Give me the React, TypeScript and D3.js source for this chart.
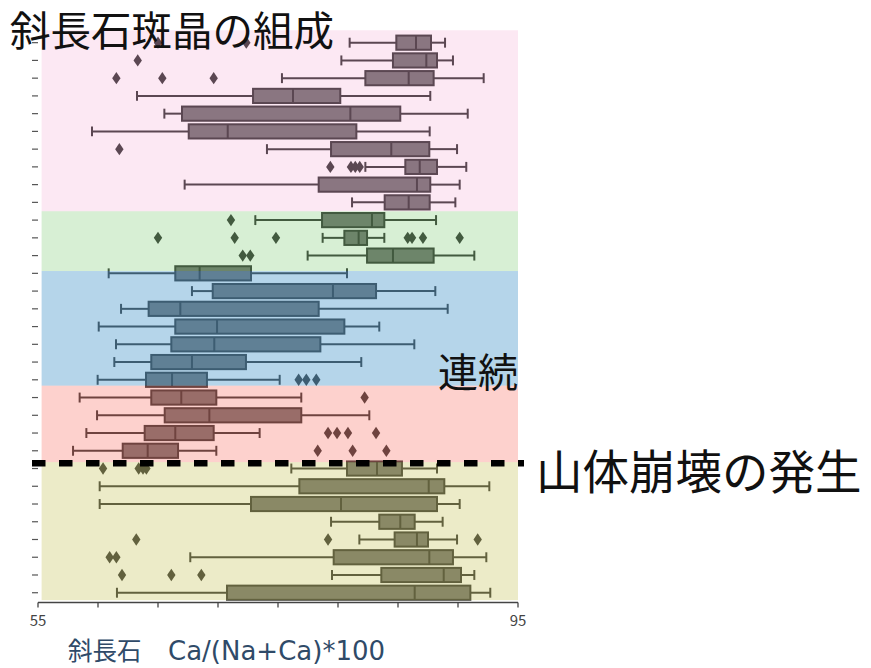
import React from "react";
import * as d3 from "d3";

// Plagioclase phenocryst An content, one box per sample (top to bottom)
const whiskerLow = [
  80.97, 80.28, 75.33, 63.25, 65.53, 59.5, 74.08, 82.28, 67.22, 81.17,
  73.11, 78.72, 77.47, 60.89,
  67.83, 61.92, 60.06, 61.5, 61.36, 59.97,
  58.47, 59.92, 59.03, 57.92,
  76.11, 60.14, 60.14, 79.42, 81.78, 67.69, 79.5, 61.58,
];
const q1 = [
  84.86, 84.58, 82.28, 72.92, 67.0, 67.56, 79.42, 85.61, 78.39, 83.89,
  78.67, 80.53, 82.42, 66.44,
  69.56, 64.22, 66.44, 66.11, 64.44, 64.0,
  64.44, 65.56, 63.89, 62.06,
  80.75, 76.78, 72.75, 83.44, 84.72, 79.64, 83.61, 70.75,
];
const median = [
  86.5, 87.36, 85.89, 76.25, 81.03, 70.81, 84.44, 86.81, 86.58, 85.89,
  82.83, 81.72, 84.58, 68.47,
  79.58, 66.86, 69.92, 69.69, 67.83, 66.17,
  66.94, 69.28, 66.44, 64.14,
  83.25, 87.56, 80.25, 85.19, 86.58, 87.61, 88.81, 86.39,
];
const q3 = [
  87.75, 88.25, 87.97, 80.19, 85.19, 81.53, 87.61, 88.25, 87.69, 87.64,
  83.86, 82.42, 87.97, 72.75,
  83.17, 78.39, 80.53, 78.53, 72.33, 69.08,
  69.86, 76.94, 69.64, 66.67,
  85.33, 88.86, 88.25, 86.39, 87.5, 89.58, 90.25, 91.03,
];
const whiskerHigh = [
  88.92, 89.58, 92.14, 87.69, 90.81, 87.64, 89.92, 90.69, 90.14, 89.78,
  88.17, 83.86, 91.36, 80.75,
  88.11, 89.14, 83.44, 86.36, 81.94, 75.14,
  76.94, 82.61, 73.47, 69.86,
  88.25, 92.61, 90.14, 88.72, 89.92, 92.36, 91.36, 92.69,
];
const outliers: number[][] = [
  [65.0, 72.36], [63.31], [61.53, 65.36, 69.64], [], [], [], [61.78],
  [79.36, 81.08, 81.44, 81.81], [], [],
  [71.08], [65.0, 71.39, 74.83, 85.81, 86.17, 87.08, 90.14], [72.06, 72.69], [],
  [], [], [], [], [], [76.72, 77.36, 78.19],
  [82.22], [], [79.17, 79.92, 80.83, 83.17], [78.31, 81.22, 84.03],
  [60.42, 63.39, 63.75, 64.03], [], [], [], [63.19, 79.17, 91.64],
  [60.97, 61.53], [62.0, 66.11, 68.61], [],
];

// Eruptive stages, as spans of box rows (row units from the top)
const stageStart = [-0.2, 10.0, 13.37, 19.83, 24.14];
const stageEnd = [10.0, 13.37, 19.83, 24.14, 31.92];
// Sector collapse event, in row units
const collapseAt = 24.2;

const xTicks = [55, 60, 65, 70, 75, 80, 85, 90, 95];
const xTickLabels = ["55", "", "", "", "", "", "", "", "95"];

const titleText = "斜長石斑晶の組成";
const xTitleMineral = "斜長石";
const xTitleFormula = "Ca/(Na+Ca)*100";
const continuousText = "連続";
const collapseText = "山体崩壊の発生";

const stageTint = [
  "rgba(225,25,135,0.10)",
  "rgba(20,160,0,0.17)",
  "rgba(31,128,191,0.33)",
  "rgba(245,40,21,0.21)",
  "rgba(172,168,16,0.23)",
];

const JP = "'Noto Sans CJK JP', 'Noto Sans', sans-serif";
const LATIN = "'DejaVu Sans', sans-serif";

export default function App() {
  const n = median.length;
  const x = d3.scaleLinear().domain([55, 95]).range([38, 518]);
  const y = d3
    .scaleBand<number>()
    .domain(d3.range(n))
    .range([33.8, 601.6])
    .padding(0);
  const rowPos = d3.scaleLinear().domain([0, n]).range([33.8, 601.6]);
  const step = y.step();
  const boxH = step * 0.8;
  const capH = step * 0.56;
  const boxFill = "#808080";
  const edge = "#4c4c4c";
  const axisY = 602.5;

  const diamond = (cx: number, cy: number) => {
    const w = 4.2;
    const h = 6.2;
    return `M${cx},${cy - h}L${cx + w},${cy}L${cx},${cy + h}L${cx - w},${cy}Z`;
  };

  return (
    <svg
      width={871}
      height={668}
      style={{ position: "absolute", left: 0, top: 0, background: "#fff" }}
    >
      {/* boxes */}
      <g>
        {median.map((m, i) => {
          const cy = (y(i) as number) + step / 2;
          return (
            <g key={i}>
              <line x1={x(whiskerLow[i])} x2={x(q1[i])} y1={cy} y2={cy} stroke={edge} strokeWidth={2} />
              <line x1={x(q3[i])} x2={x(whiskerHigh[i])} y1={cy} y2={cy} stroke={edge} strokeWidth={2} />
              <line x1={x(whiskerLow[i])} x2={x(whiskerLow[i])} y1={cy - capH / 2} y2={cy + capH / 2} stroke={edge} strokeWidth={2} />
              <line x1={x(whiskerHigh[i])} x2={x(whiskerHigh[i])} y1={cy - capH / 2} y2={cy + capH / 2} stroke={edge} strokeWidth={2} />
              <rect
                x={x(q1[i])}
                y={cy - boxH / 2}
                width={x(q3[i]) - x(q1[i])}
                height={boxH}
                fill={boxFill}
                stroke={edge}
                strokeWidth={2}
              />
              <line x1={x(m)} x2={x(m)} y1={cy - boxH / 2} y2={cy + boxH / 2} stroke={edge} strokeWidth={2} />
              {outliers[i].map((o, j) => (
                <path key={j} d={diamond(x(o), cy)} fill={edge} />
              ))}
            </g>
          );
        })}
      </g>

      {/* stage tints */}
      <g>
        {stageStart.map((s, k) => (
          <rect
            key={k}
            x={x(55.3)}
            y={rowPos(s)}
            width={x(95) - x(55.3)}
            height={rowPos(stageEnd[k]) - rowPos(s)}
            fill={stageTint[k]}
          />
        ))}
      </g>

      {/* y ticks */}
      <g>
        {median.map((_, i) => {
          const cy = (y(i) as number) + step / 2;
          return <line key={i} x1={32} x2={38} y1={cy} y2={cy} stroke="#555" strokeWidth={1.2} />;
        })}
      </g>

      {/* x axis */}
      <g>
        <line x1={x(55)} x2={x(95)} y1={axisY} y2={axisY} stroke="#444" strokeWidth={1.3} />
        {xTicks.map((t, i) => (
          <g key={t}>
            <line x1={x(t)} x2={x(t)} y1={axisY} y2={axisY + 5} stroke="#444" strokeWidth={1.3} />
            {xTickLabels[i] && (
              <text x={x(t)} y={axisY + 23} textAnchor="middle" fontFamily={JP} fontSize={15} fill="#444">
                {xTickLabels[i]}
              </text>
            )}
          </g>
        ))}
      </g>

      <text x={68} y={660} fill="#2f4a68">
        <tspan fontFamily={JP} fontSize={24.5}>{xTitleMineral}</tspan>
        <tspan x={168} fontFamily={LATIN} fontSize={26}>{xTitleFormula}</tspan>
      </text>

      <text x={10} y={46} fontFamily={JP} fontSize={40.5} fill="#111">
        {titleText}
      </text>
      <text x={438} y={387} fontFamily={JP} fontSize={40} fill="#111">
        {continuousText}
      </text>

      <line
        x1={32}
        x2={524}
        y1={rowPos(collapseAt)}
        y2={rowPos(collapseAt)}
        stroke="#000"
        strokeWidth={6.5}
        strokeDasharray="13.5 13.5"
      />
      <text x={536} y={489} fontFamily={JP} fontSize={46.5} fill="#111">
        {collapseText}
      </text>
    </svg>
  );
}
